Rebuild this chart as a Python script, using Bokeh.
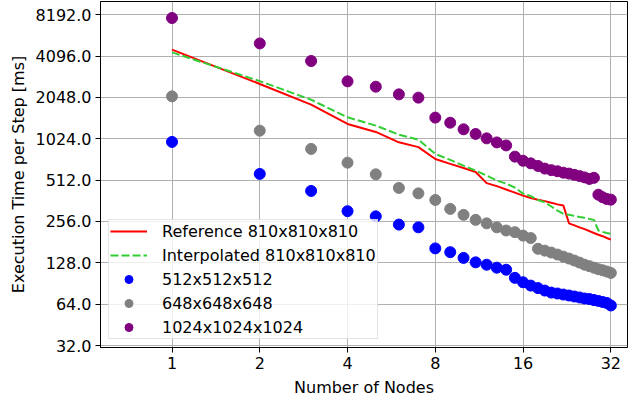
from bokeh.plotting import figure
from bokeh.models import FixedTicker
from bokeh.embed import file_html
from bokeh.resources import INLINE

nodes = list(range(1, 33))

reference_810 = [4557, 2566, 1814, 1313, 1148, 965, 890, 730, 672, 628, 587, 487, 463, 437, 415, 395,
                 379, 369, 360, 350, 341, 334, 248, 240, 232, 225, 218, 211, 205, 200, 194, 189]
interpolated_810 = [4356, 2690, 1970, 1467, 1276, 1097, 1009, 794, 718, 653, 600, 552, 508, 483, 452, 408,
                    392, 366, 353, 329, 307, 291, 286, 281, 276, 272, 267, 263, 220, 215, 211, 208]
size_512 = [971, 568, 427, 304, 279, 243, 232, 163, 153, 139, 129, 124, 118, 114, 99.5, 92.4,
            87.4, 83.8, 80.4, 77.7, 76.5, 75.2, 74, 72.8, 71.6, 70.4, 69.8, 68.6, 67.6, 66.4, 65.3, 62.6]
size_648 = [2084, 1173, 864, 686, 564, 449, 410, 367, 316, 286, 263, 248, 232, 220, 214, 202,
            194, 162, 157, 152, 147, 142, 137.5, 133, 128.5, 124, 121, 118, 115, 113, 110.6, 108]
size_1024 = [7750, 5060, 3770, 2680, 2450, 2155, 2040, 1460, 1340, 1200, 1110, 1031, 963, 916, 759, 708,
             678, 649, 621, 605, 594, 580, 571, 559, 548, 536, 522, 532, 401, 384, 373, 369]

x_ticks = [1, 2, 4, 8, 16, 32]
y_ticks = [32, 64, 128, 256, 512, 1024, 2048, 4096, 8192]

FONT = "DejaVu Sans"

p = figure(width=628, height=402, x_axis_type="log", y_axis_type="log",
           x_range=(0.5685, 36.5), y_range=(30.96, 10220),
           output_backend="svg", toolbar_location=None,
           min_border_left=100, min_border_right=1, min_border_top=1, min_border_bottom=55)

p.line(nodes, reference_810, color="red", line_width=2, legend_label="Reference 810x810x810")
p.line(nodes, interpolated_810, color="limegreen", line_width=2, line_dash="8 3",
       legend_label="Interpolated 810x810x810")
p.scatter(nodes, size_512, size=11, color="blue", legend_label="512x512x512")
p.scatter(nodes, size_648, size=11, color="gray", legend_label="648x648x648")
p.scatter(nodes, size_1024, size=11, color="purple", legend_label="1024x1024x1024")

xt = FixedTicker(ticks=x_ticks)
yt = FixedTicker(ticks=y_ticks)
p.xaxis.ticker = xt
p.yaxis.ticker = yt
p.xgrid.ticker = xt
p.ygrid.ticker = yt
p.xaxis.major_label_overrides = {t: str(t) for t in x_ticks}
p.yaxis.major_label_overrides = {t: f"{t:.1f}" for t in y_ticks}

for g in (p.xgrid, p.ygrid):
    g.grid_line_color = "#b0b0b0"
    g.grid_line_width = 1

for ax in (p.xaxis, p.yaxis):
    ax.axis_line_color = "black"
    ax.major_tick_line_color = "black"
    ax.major_tick_out = 5
    ax.major_tick_in = 0
    ax.minor_tick_line_color = None
    ax.major_label_text_font = FONT
    ax.major_label_text_font_size = "16px"
    ax.major_label_text_color = "black"
    ax.axis_label_text_font = FONT
    ax.axis_label_text_font_size = "16px"
    ax.axis_label_text_font_style = "normal"
    ax.axis_label_text_color = "black"
    ax.major_label_standoff = 4
    ax.axis_label_standoff = 6

p.yaxis.axis_label_standoff = 5
p.xaxis.axis_label = "Number of Nodes"
p.yaxis.axis_label = "Execution Time per Step [ms]"

p.outline_line_color = "black"
p.outline_line_width = 1
p.outline_line_alpha = 1

lg = p.legend[0]
lg.location = "bottom_left"
lg.label_text_font = FONT
lg.label_text_font_size = "16px"
lg.label_text_color = "black"
lg.glyph_width = 37
lg.glyph_height = 20
lg.label_height = 20
lg.label_standoff = 15
lg.spacing = 4
lg.padding = 1
lg.margin = 8
lg.border_line_color = "#cccccc"
lg.border_line_width = 1
lg.background_fill_alpha = 0.8

open("out.html", "w").write(file_html(p, INLINE))
